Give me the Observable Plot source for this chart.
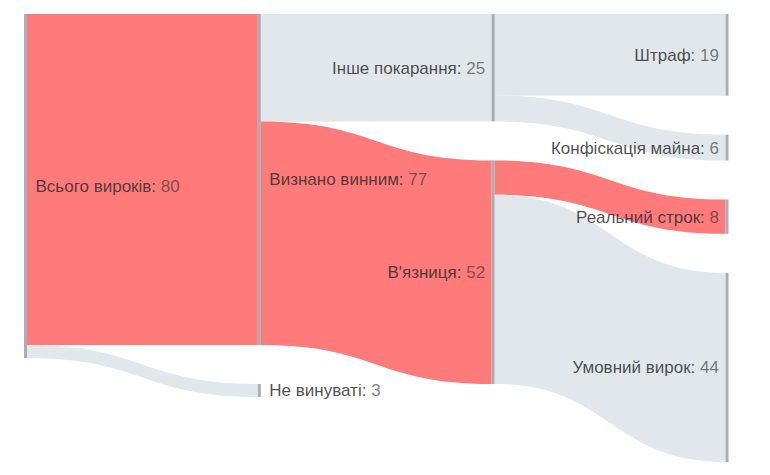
<!DOCTYPE html>
<html>
<head>
<meta charset="utf-8">
<script src="https://cdn.jsdelivr.net/npm/d3@7"></script>
<script src="https://cdn.jsdelivr.net/npm/@observablehq/plot@0.6"></script>
<style>
  html, body { margin: 0; padding: 0; background: #fff; }
  #chart { width: 770px; height: 475px; }
  svg text { font-family: "Liberation Sans", Arial, sans-serif; }
</style>
</head>
<body>
<div id="chart"></div>
<script>
// ---- data ----
const nodeNames = ["Всього вироків", "Визнано винним", "Не винуваті", "Інше покарання", "В'язниця", "Штраф", "Конфіскація майна", "Реальний строк", "Умовний вирок"];
const linkSources = [0, 0, 1, 1, 3, 3, 4, 4];
const linkTargets = [1, 2, 3, 4, 5, 6, 7, 8];
const linkValues  = [77, 3, 25, 52, 19, 6, 8, 44];
const linkGroups  = ["highlight", "other", "other", "highlight", "other", "other", "highlight", "other"];

// ---- minimal sankey layout (in value units) ----
const H = 448, PY = 39, NODE_W_PX = 3, COL_PX = (725.5 - 24) / 3;
const nodes = nodeNames.map((name, i) => ({ i, name, inL: [], outL: [], depth: 0 }));
const links = linkValues.map((v, i) => ({ i, s: nodes[linkSources[i]], t: nodes[linkTargets[i]], value: v, group: linkGroups[i] }));
links.forEach(l => { l.s.outL.push(l); l.t.inL.push(l); });
nodes.forEach(n => n.value = Math.max(d3.sum(n.inL, l => l.value), d3.sum(n.outL, l => l.value)));
let changed = true;
while (changed) { changed = false; links.forEach(l => { if (l.t.depth < l.s.depth + 1) { l.t.depth = l.s.depth + 1; changed = true; } }); }
const columns = d3.groups(nodes, n => n.depth).sort((a, b) => a[0] - b[0]).map(d => d[1]);
const ky = d3.min(columns, c => (H - (c.length - 1) * PY) / d3.sum(c, n => n.value));
const pad = PY / ky;
columns.forEach(c => { let y = 0; c.forEach(n => { n.y0 = y; n.y1 = y + n.value; y = n.y1 + pad; }); });
const extent = d3.max(nodes, n => n.y1);
nodes.forEach(n => {
  let y = n.y0;
  n.outL.slice().sort((a, b) => a.t.y0 - b.t.y0).forEach(l => { l.sy0 = y; l.sy1 = y + l.value; y = l.sy1; });
  y = n.y0;
  n.inL.slice().sort((a, b) => a.s.y0 - b.s.y0).forEach(l => { l.ty0 = y; l.ty1 = y + l.value; y = l.ty1; });
});
const nw = NODE_W_PX / COL_PX;
const linkRows = links.flatMap(l => [
  { id: l.i, x: l.s.depth + nw, y1: l.sy0, y2: l.sy1, group: l.group },
  { id: l.i, x: l.t.depth, y1: l.ty0, y2: l.ty1, group: l.group }
]);
const nodeRows = nodes.map(n => ({ name: n.name, value: n.value, x1: n.depth, x2: n.depth + nw, y0: n.y0, y1: n.y1, ym: (n.y0 + n.y1) / 2, right: n.depth < 2, label: `${n.name}: ${n.value}` }));

const chart = Plot.plot({
  width: 770,
  height: 475,
  margin: 0,
  x: { domain: [0, 3], range: [24, 725.5], axis: null },
  y: { domain: [0, extent], range: [14, 14 + H], axis: null },
  color: { domain: ["highlight", "other"], range: ["#ff7b7b", "#e1e7eb"] },
  marks: [
    Plot.area(linkRows, { x1: "x", y1: "y1", y2: "y2", z: "id", fill: "group", curve: "bump-x" }),
    Plot.rect(nodeRows, { x1: "x1", x2: "x2", y1: "y0", y2: "y1", fill: "#a9aeb3" }),
    Plot.text(nodeRows.filter(d => d.right), { x: "x2", y: "ym", text: "label", textAnchor: "start", dx: 8, fontSize: 17, fill: "#2a2a2a", fillOpacity: 0.82, className: "lbl" }),
    Plot.text(nodeRows.filter(d => !d.right), { x: "x1", y: "ym", text: "label", textAnchor: "end", dx: -7, fontSize: 17, fill: "#2a2a2a", fillOpacity: 0.82, className: "lbl" })
  ]
});

// value part of each label drawn lighter (semi-transparent)
chart.querySelectorAll(".lbl text").forEach(t => {
  const s = t.textContent;
  const i = s.lastIndexOf(": ");
  if (i < 0) return;
  t.textContent = "";
  const a = document.createElementNS("http://www.w3.org/2000/svg", "tspan");
  a.textContent = s.slice(0, i + 1);
  const b = document.createElementNS("http://www.w3.org/2000/svg", "tspan");
  b.textContent = s.slice(i + 1);
  b.setAttribute("fill-opacity", "0.6");
  t.append(a, b);
});

document.getElementById("chart").append(chart);
</script>
</body>
</html>
